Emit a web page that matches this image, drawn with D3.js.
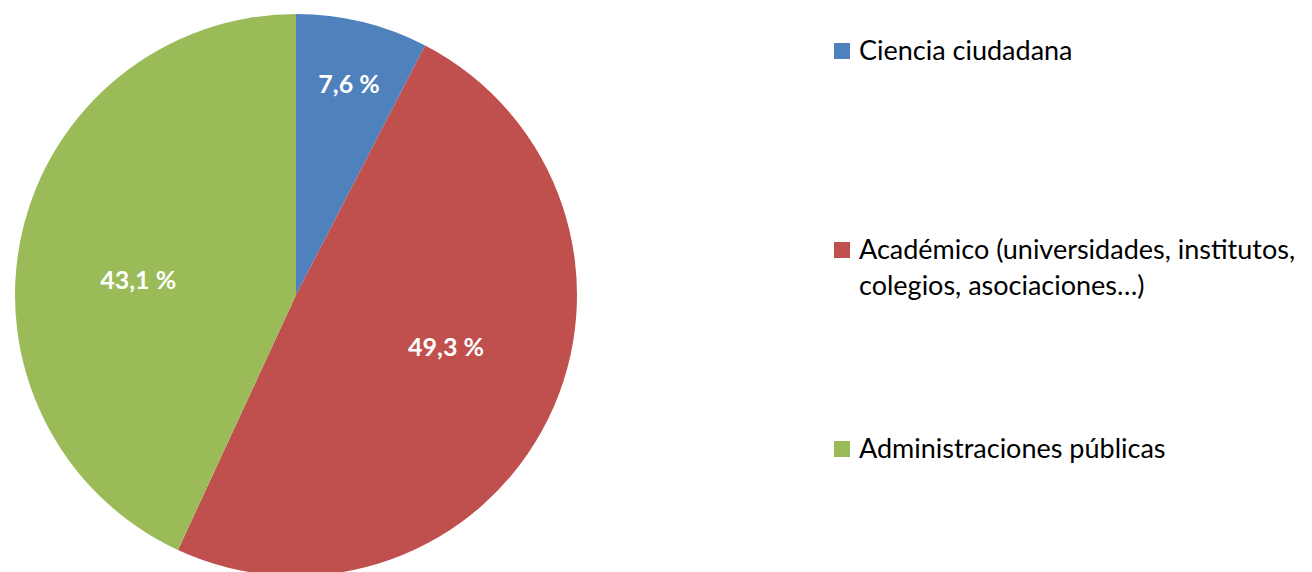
<!DOCTYPE html>
<html>
<head><meta charset="utf-8"></head>
<body style="margin:0;background:#fff">
<svg></svg>
<script src="https://d3js.org/d3.v7.min.js"></script>
<script>
// chart data
const categories = ["Ciencia ciudadana", "Académico (universidades, institutos, colegios, asociaciones…)", "Administraciones públicas"];
const legendLines = [["Ciencia ciudadana"], ["Académico (universidades, institutos,", "colegios, asociaciones…)"], ["Administraciones públicas"]];
const values = [7.6, 49.3, 43.1];
const colors = ["#4F81BD", "#C0504D", "#9BBB59"];

var width = 1312, height = 572;
var cx = 296, cy = 295, radius = 281;
// where Excel put each label: fraction of radius, and angle nudge in degrees
var labelFrac = [0.775, 0.565, 0.564];
var labelNudge = [0.4, -7, -7];

const svg = d3.select("svg")
    .attr("width", width)
    .attr("height", height);

const pie = d3.pie().sort(null).value(d => d)(values);
const arc = d3.arc().innerRadius(0).outerRadius(radius);

const g = svg.append("g").attr("transform", `translate(${cx},${cy})`);

g.selectAll("path")
  .data(pie)
  .join("path")
    .attr("d", arc)
    .attr("fill", (d, i) => colors[i]);

g.selectAll("text")
  .data(pie)
  .join("text")
    .attr("transform", (d, i) => {
      const r = radius * labelFrac[i];
      const a = (d.startAngle + d.endAngle) / 2 + labelNudge[i] * Math.PI / 180;
      return `translate(${Math.sin(a) * r},${-Math.cos(a) * r})`;
    })
    .attr("text-anchor", "middle")
    .attr("dy", "0.35em")
    .attr("fill", "#fff")
    .attr("font-family", "Lato, 'Open Sans', sans-serif")
    .attr("font-weight", "bold")
    .attr("font-size", 25)
    .text(d => d3.format(".1f")(d.value).replace(".", ",") + " %");

// legend
const legendY = [51, 250, 449];
const leg = svg.append("g")
  .selectAll("g")
  .data(categories)
  .join("g")
    .attr("transform", (d, i) => `translate(834,${legendY[i]})`);

leg.append("rect")
    .attr("y", -8)
    .attr("width", 16)
    .attr("height", 16)
    .attr("fill", (d, i) => colors[i]);

leg.append("text")
    .attr("font-family", "Lato, 'Open Sans', sans-serif")
    .attr("font-size", 27)
    .attr("fill", "#000")
    .selectAll("tspan")
    .data((d, i) => legendLines[i])
    .join("tspan")
      .attr("x", 25)
      .attr("y", (d, j) => j * 36)
      .attr("dy", "0.35em")
      .text(d => d);
</script>
</body>
</html>
